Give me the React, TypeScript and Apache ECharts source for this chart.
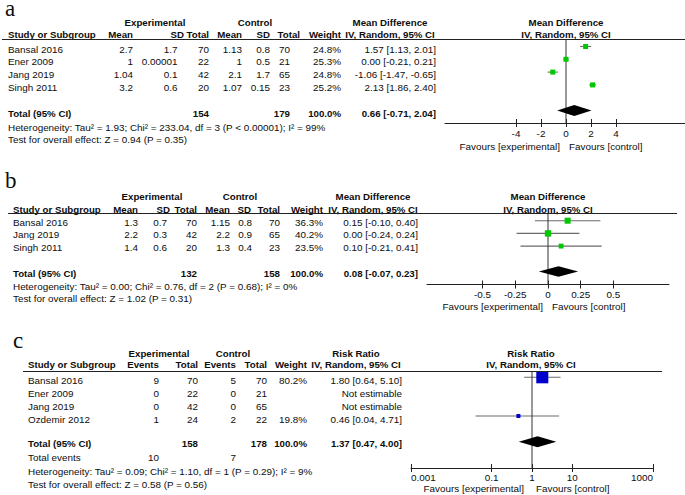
import React, { useEffect, useRef } from 'react';
import * as echarts from 'echarts';

// ===== Panel a : Mean Difference (IV, Random) =====
const studiesA = ['Bansal 2016', 'Ener 2009', 'Jang 2019', 'Singh 2011'];
const expMeanA = [2.7, 1, 1.04, 3.2];
const expSdA = [1.7, 0.00001, 0.1, 0.6];
const expTotalA = [70, 22, 42, 20];
const ctrlMeanA = [1.13, 1, 2.1, 1.07];
const ctrlSdA = [0.8, 0.5, 1.7, 0.15];
const ctrlTotalA = [70, 21, 65, 23];
const weightA = [24.8, 25.3, 24.8, 25.2];
const estA = [1.57, 0.0, -1.06, 2.13];
const lowA = [1.13, -0.21, -1.47, 1.86];
const highA = [2.01, 0.21, -0.65, 2.4];
const pooledA = [0.66, -0.71, 2.04]; // estimate, low, high
const totalsA = [154, 179];
const hetA = 'Heterogeneity: Tau² = 1.93; Chi² = 233.04, df = 3 (P < 0.00001); I² = 99%';
const testA = 'Test for overall effect: Z = 0.94 (P = 0.35)';
const ticksA = [-4, -2, 0, 2, 4];

// ===== Panel b : Mean Difference (IV, Random) =====
const studiesB = ['Bansal 2016', 'Jang 2019', 'Singh 2011'];
const expMeanB = [1.3, 2.2, 1.4];
const expSdB = [0.7, 0.3, 0.6];
const expTotalB = [70, 42, 20];
const ctrlMeanB = [1.15, 2.2, 1.3];
const ctrlSdB = [0.8, 0.9, 0.4];
const ctrlTotalB = [70, 65, 23];
const weightB = [36.3, 40.2, 23.5];
const estB = [0.15, 0.0, 0.1];
const lowB = [-0.1, -0.24, -0.21];
const highB = [0.4, 0.24, 0.41];
const pooledB = [0.08, -0.07, 0.23];
const totalsB = [132, 158];
const hetB = 'Heterogeneity: Tau² = 0.00; Chi² = 0.76, df = 2 (P = 0.68); I² = 0%';
const testB = 'Test for overall effect: Z = 1.02 (P = 0.31)';
const ticksB = [-0.5, -0.25, 0, 0.25, 0.5];

// ===== Panel c : Risk Ratio (IV, Random) =====
const studiesC = ['Bansal 2016', 'Ener 2009', 'Jang 2019', 'Ozdemir 2012'];
const expEventsC = [9, 0, 0, 1];
const expTotalC = [70, 22, 42, 24];
const ctrlEventsC = [5, 0, 0, 2];
const ctrlTotalC = [70, 21, 65, 22];
const weightC = [80.2, null, null, 19.8];
const estC = [1.8, null, null, 0.46];
const lowC = [0.64, null, null, 0.04];
const highC = [5.1, null, null, 4.71];
const pooledC = [1.37, 0.47, 4.0];
const totalsC = [158, 178];
const totalEventsC = [10, 7];
const hetC = 'Heterogeneity: Tau² = 0.09; Chi² = 1.10, df = 1 (P = 0.29); I² = 9%';
const testC = 'Test for overall effect: Z = 0.58 (P = 0.56)';
const ticksC = [0.001, 0.1, 1, 10, 1000];

// ===== styling helpers =====
const SANS = '"Liberation Sans", Arial, Helvetica, sans-serif';
const SERIF = '"Liberation Serif", "Times New Roman", serif';
const FS = 9.9;
const FSB = 9.7;
const INK = '#0d0d0d';

const T = (x: number, y: number, text: any, align = 'left', bold = false) => ({
  type: 'text', x, y, silent: true, z: 10,
  style: { text: String(text), font: `${bold ? 'bold ' : ''}${bold ? FSB : FS}px ${SANS}`, fill: INK, align, verticalAlign: 'middle' },
});
const Letter = (x: number, y: number, text: string) => ({
  type: 'text', x, y, silent: true, z: 10,
  style: { text, font: `23px ${SERIF}`, lineHeight: 14, fill: INK, align: 'left', verticalAlign: 'middle' },
});
const HL = (x1: number, x2: number, y: number) => ({
  type: 'line', silent: true, z: 10, shape: { x1, y1: y, x2, y2: y }, style: { stroke: '#222', lineWidth: 1 },
});
const ci = (e: number, l: number, h: number) => `${e.toFixed(2)} [${l.toFixed(2)}, ${h.toFixed(2)}]`;
const pct = (w: number | null) => (w == null ? '' : w.toFixed(1) + '%');

function rows(g: any[], names: string[], cols: [number, any[]][], nameX: number, y0: number, dy: number) {
  names.forEach((nm, i) => {
    const y = y0 + i * dy;
    g.push(T(nameX, y, nm));
    cols.forEach(([x, vals]) => {
      const v = vals[i];
      if (v != null && v !== '') g.push(T(x, y, v, 'right'));
    });
  });
}

function buildGraphics() {
  const g: any[] = [];
  // ---- a ----
  g.push(Letter(5, 8.5, 'a'));
  ([['Experimental', 155], ['Control', 255], ['Mean Difference', 390], ['Mean Difference', 566]] as [string, number][])
    .forEach(([s, x]) => g.push(T(x, 22, s, 'center', true)));
  g.push(T(8, 34, 'Study or Subgroup', 'left', true));
  ([['Mean', 133], ['SD', 184], ['Total', 209], ['Mean', 242], ['SD', 270], ['Total', 300], ['Weight', 341]] as [string, number][])
    .forEach(([s, x]) => g.push(T(x, 34, s, 'right', true)));
  g.push(T(390, 34, 'IV, Random, 95% CI', 'center', true));
  g.push(T(566, 34, 'IV, Random, 95% CI', 'center', true));
  g.push(HL(2, 685, 39.5));
  rows(g, studiesA, [
    [133, expMeanA.map(String)], [177.5, expSdA.map(String)], [209, expTotalA], [242, ctrlMeanA.map(String)],
    [270, ctrlSdA.map(String)], [290, ctrlTotalA], [341, weightA.map(pct)],
    [436, estA.map((e, i) => ci(e, lowA[i], highA[i]))],
  ], 8, 49, 12.67);
  g.push(T(8, 113, 'Total (95% CI)', 'left', true));
  g.push(T(209, 113, totalsA[0], 'right', true));
  g.push(T(290, 113, totalsA[1], 'right', true));
  g.push(T(341, 113, '100.0%', 'right', true));
  g.push(T(436, 113, ci(pooledA[0], pooledA[1], pooledA[2]), 'right', true));
  g.push(T(8, 127, hetA));
  g.push(T(8, 139, testA));
  g.push(T(560, 146, 'Favours [experimental]', 'right'));
  g.push(T(569, 146, 'Favours [control]', 'left'));

  // ---- b ----
  g.push(Letter(5, 180.5, 'b'));
  ([['Experimental', 152], ['Control', 240], ['Mean Difference', 373], ['Mean Difference', 548]] as [string, number][])
    .forEach(([s, x]) => g.push(T(x, 196, s, 'center', true)));
  g.push(T(13, 209, 'Study or Subgroup', 'left', true));
  ([['Mean', 138], ['SD', 170], ['Total', 197], ['Mean', 230], ['SD', 251], ['Total', 280], ['Weight', 323]] as [string, number][])
    .forEach(([s, x]) => g.push(T(x, 209, s, 'right', true)));
  g.push(T(373, 209, 'IV, Random, 95% CI', 'center', true));
  g.push(T(548, 209, 'IV, Random, 95% CI', 'center', true));
  g.push(HL(8, 677, 213.5));
  rows(g, studiesB, [
    [138, expMeanB.map(String)], [167, expSdB.map(String)], [197, expTotalB], [230, ctrlMeanB.map(String)],
    [252, ctrlSdB.map(String)], [280, ctrlTotalB], [323, weightB.map(pct)],
    [418, estB.map((e, i) => ci(e, lowB[i], highB[i]))],
  ], 13, 222, 12.6);
  g.push(T(13, 273, 'Total (95% CI)', 'left', true));
  g.push(T(197, 273, totalsB[0], 'right', true));
  g.push(T(280, 273, totalsB[1], 'right', true));
  g.push(T(323, 273, '100.0%', 'right', true));
  g.push(T(418, 273, ci(pooledB[0], pooledB[1], pooledB[2]), 'right', true));
  g.push(T(13, 286, hetB));
  g.push(T(13, 298, testB));
  g.push(T(543, 306, 'Favours [experimental]', 'right'));
  g.push(T(552, 306, 'Favours [control]', 'left'));

  // ---- c ----
  g.push(Letter(13, 340.5, 'c'));
  ([['Experimental', 159], ['Control', 233], ['Risk Ratio', 356], ['Risk Ratio', 531]] as [string, number][])
    .forEach(([s, x]) => g.push(T(x, 353, s, 'center', true)));
  g.push(T(28, 364, 'Study or Subgroup', 'left', true));
  ([['Events', 159], ['Total', 198], ['Events', 236], ['Total', 267], ['Weight', 307]] as [string, number][])
    .forEach(([s, x]) => g.push(T(x, 364, s, 'right', true)));
  g.push(T(356, 364, 'IV, Random, 95% CI', 'center', true));
  g.push(T(531, 364, 'IV, Random, 95% CI', 'center', true));
  g.push(HL(23, 662, 371.5));
  rows(g, studiesC, [
    [159, expEventsC], [198, expTotalC], [236, ctrlEventsC], [267, ctrlTotalC], [307, weightC.map(pct)],
    [402, estC.map((e, i) => (e == null ? 'Not estimable' : ci(e, lowC[i] as number, highC[i] as number)))],
  ], 28, 380, 13);
  g.push(T(28, 443, 'Total (95% CI)', 'left', true));
  g.push(T(198, 443, totalsC[0], 'right', true));
  g.push(T(267, 443, totalsC[1], 'right', true));
  g.push(T(307, 443, '100.0%', 'right', true));
  g.push(T(402, 443, ci(pooledC[0], pooledC[1], pooledC[2]), 'right', true));
  g.push(T(28, 457, 'Total events'));
  g.push(T(159, 457, totalEventsC[0], 'right'));
  g.push(T(236, 457, totalEventsC[1], 'right'));
  g.push(T(28, 471, hetC));
  g.push(T(28, 484, testC));
  g.push(T(524, 488, 'Favours [experimental]', 'right'));
  g.push(T(536, 488, 'Favours [control]', 'left'));
  return g;
}

// ===== plot panels =====
type Panel = {
  grid: { left: number; top: number; width: number; height: number };
  axisType: 'value' | 'log'; min: number; max: number; ticks: number[]; labelMargin: number;
  markY0: number; markDy: number;
  est: (number | null)[]; low: (number | null)[]; high: (number | null)[]; weight: (number | null)[];
  pooled: number[]; ref: number; color: string; size: (w: number) => number; diamondH: number; edgeAlign: boolean;
};

const panels: Panel[] = [
  {
    grid: { left: 445, top: 39.5, width: 240, height: 83.5 }, axisType: 'value', min: -9.68, max: 9.52,
    ticks: ticksA, labelMargin: 5, markY0: 46.5, markDy: 12.8,
    est: estA, low: lowA, high: highA, weight: weightA, pooled: pooledA, ref: 0, color: '#00c800',
    size: (w) => Math.sqrt(w), diamondH: 5.5, edgeAlign: false,
  },
  {
    grid: { left: 427, top: 213.5, width: 242, height: 71 }, axisType: 'value', min: -0.924, max: 0.924,
    ticks: ticksB, labelMargin: 5, markY0: 220.7, markDy: 12.7,
    est: estB, low: lowB, high: highB, weight: weightB, pooled: pooledB, ref: 0, color: '#00c800',
    size: (w) => Math.sqrt(w), diamondH: 5.3, edgeAlign: false,
  },
  {
    grid: { left: 411, top: 371.5, width: 242, height: 96.5 }, axisType: 'log', min: 0.001, max: 1000,
    ticks: ticksC, labelMargin: 4, markY0: 377.3, markDy: 12.9,
    est: estC, low: lowC, high: highC, weight: weightC, pooled: pooledC, ref: 1, color: '#0000cc',
    size: (w) => Math.max(4, 0.15 * w), diamondH: 5.5, edgeAlign: true,
  },
];

function buildOption() {
  const grid: any[] = [];
  const xAxis: any[] = [];
  const yAxis: any[] = [];
  const series: any[] = [];
  panels.forEach((p, k) => {
    grid.push({ ...p.grid, containLabel: false, outerBoundsMode: 'none' });
    const yMin = -(p.markY0 - p.grid.top) / p.markDy;
    const yMax = (p.grid.top + p.grid.height - p.markY0) / p.markDy;
    yAxis.push({ gridIndex: k, type: 'value', inverse: true, min: yMin, max: yMax, show: false });
    const base: any = { gridIndex: k, type: p.axisType, min: p.min, max: p.max, position: 'bottom', splitLine: { show: false } };
    if (p.axisType === 'log') base.logBase = 10;
    xAxis.push({
      ...base,
      axisLine: { show: true, onZero: false, lineStyle: { color: '#222', width: 1 } },
      axisTick: { show: true, customValues: p.ticks, length: 4, lineStyle: { color: '#222', width: 1 } },
      axisLabel: {
        show: true, customValues: p.ticks, margin: p.labelMargin, color: INK, fontSize: FS, fontFamily: SANS,
        formatter: (v: number) => String(v), showMinLabel: true, showMaxLabel: true,
        ...(p.edgeAlign ? { alignMinLabel: 'left', alignMaxLabel: 'right' } : {}),
      },
    });
    xAxis.push({
      ...base,
      axisLine: { show: false, onZero: false },
      axisTick: { show: true, inside: true, customValues: p.ticks, length: 4, lineStyle: { color: '#222', width: 1 } },
      axisLabel: { show: false },
    });
    const xi = 2 * k;
    const n = p.est.length;
    // confidence intervals
    series.push({
      type: 'custom', xAxisIndex: xi, yAxisIndex: k, z: 2, silent: true,
      data: p.est.map((e, i) => (e == null ? null : [p.low[i], p.high[i], i])).filter(Boolean),
      encode: { x: [0, 1], y: 2 },
      renderItem: (_params: any, api: any) => {
        const a = api.coord([api.value(0), api.value(2)]);
        const b = api.coord([api.value(1), api.value(2)]);
        return { type: 'line', shape: { x1: a[0], y1: a[1], x2: b[0], y2: b[1] }, style: { stroke: '#6a6a6a', lineWidth: 1.1 } };
      },
    });
    // line of no effect
    series.push({
      type: 'line', xAxisIndex: xi, yAxisIndex: k, z: 3, silent: true, symbol: 'none', showSymbol: false,
      data: [[p.ref, yMin], [p.ref, yMax]], lineStyle: { color: '#333', width: 1 },
    });
    // study squares
    series.push({
      type: 'scatter', xAxisIndex: xi, yAxisIndex: k, z: 4, silent: true, symbol: 'rect',
      data: p.est.map((e, i) => (e == null ? null : { value: [e, i], symbolSize: p.size(p.weight[i] as number) })).filter(Boolean),
      itemStyle: { color: p.color, opacity: 1 },
    });
    // pooled diamond
    series.push({
      type: 'custom', xAxisIndex: xi, yAxisIndex: k, z: 5, silent: true,
      data: [[p.pooled[1], p.pooled[0], p.pooled[2], n + 1]],
      encode: { x: [0, 1, 2], y: 3 },
      renderItem: (_params: any, api: any) => {
        const y = api.value(3);
        const l = api.coord([api.value(0), y]);
        const m = api.coord([api.value(1), y]);
        const r = api.coord([api.value(2), y]);
        const h = p.diamondH;
        return {
          type: 'polygon',
          shape: { points: [[l[0], l[1]], [m[0], m[1] - h], [r[0], r[1]], [m[0], m[1] + h]] },
          style: { fill: '#000' },
        };
      },
    });
  });
  return {
    animation: false,
    backgroundColor: '#ffffff',
    grid, xAxis, yAxis, series,
    graphic: { elements: buildGraphics() },
  };
}

export default function App() {
  const ref = useRef<HTMLDivElement>(null);
  useEffect(() => {
    if (!ref.current) return;
    const chart = echarts.init(ref.current, undefined, { renderer: 'svg' });
    chart.setOption(buildOption() as any);
    return () => chart.dispose();
  }, []);
  return (
    <div
      ref={ref}
      style={{ position: 'absolute', left: 0, top: 0, width: 685, height: 495, background: '#fff' }}
    />
  );
}
